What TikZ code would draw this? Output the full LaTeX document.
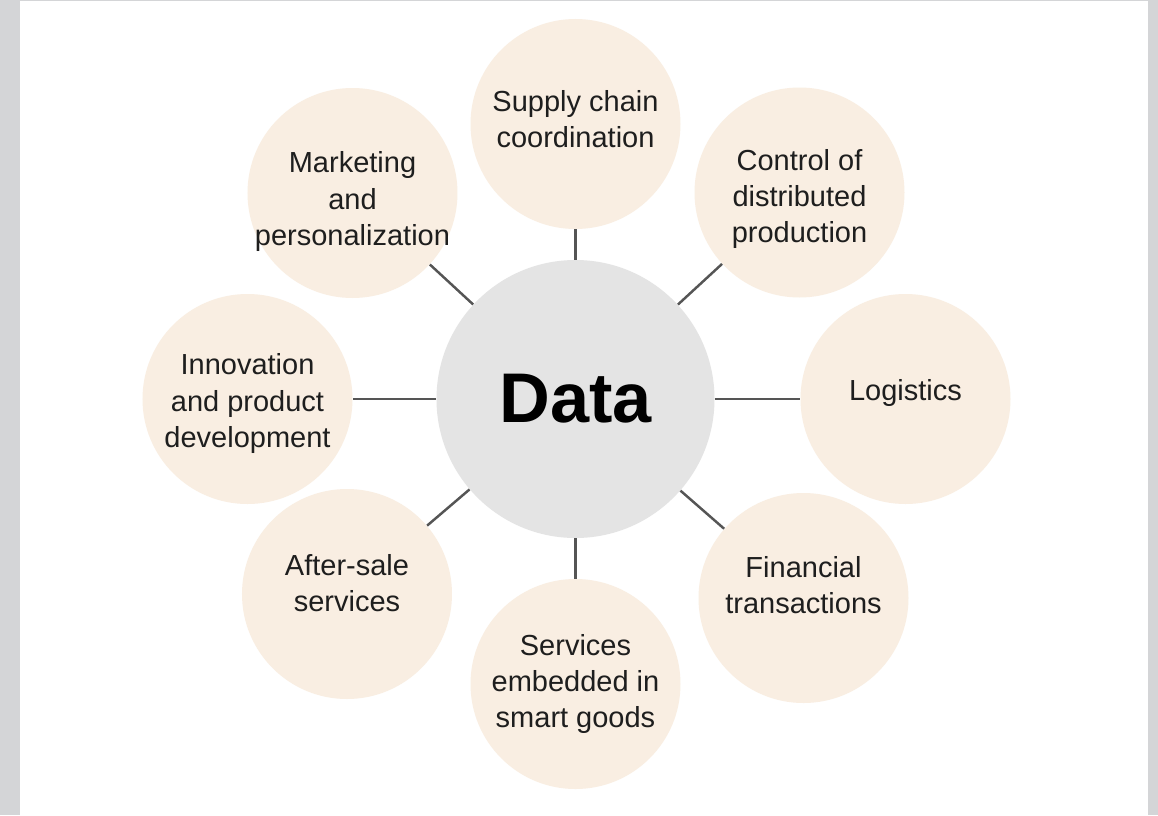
\documentclass[tikz,border=0pt]{standalone}
\usepackage{fontspec}
\setmainfont{Liberation Sans}
\usetikzlibrary{positioning}

\definecolor{sand}{RGB}{249,238,226}
\definecolor{hubgray}{RGB}{228,228,228}
\definecolor{spokegray}{RGB}{85,85,85}
\definecolor{inkgray}{RGB}{30,30,30}
\definecolor{framegray}{RGB}{212,213,215}

\begin{document}
\begin{tikzpicture}[
    disc/.style={
        circle,
        fill=sand,
        minimum size=4.2cm,
        inner sep=0pt
    },
    caption/.style={
        text=inkgray,
        align=center,
        inner sep=0pt,
        font=\fontsize{16.5}{20.5}\selectfont
    },
    hub/.style={
        circle,
        fill=hubgray,
        minimum size=5.56cm,
        inner sep=0pt,
        text=black,
        font=\fontsize{40}{48}\selectfont\bfseries
    },
    spoke/.style={
        line width=1.4pt,
        spokegray
    }
]

% Frame and white sheet
\fill[framegray] (-11.51,8.08) rectangle (11.65,-8.22);
\fill[white] (-11.11,8.06) rectangle (11.45,-8.22);

% Central node
\node[hub] (data) at (0,0.1) {Data};

% Fields that use the data, clockwise from the top
\node[disc] (supply)    at (0,5.6)      {};
\node[disc] (control)   at (4.48,4.23)  {};
\node[disc] (logistics) at (6.6,0.1)    {};
\node[disc] (finance)   at (4.56,-3.88) {};
\node[disc] (embedded)  at (0,-5.6)     {};
\node[disc] (aftersale) at (-4.57,-3.8) {};
\node[disc] (innovate)  at (-6.56,0.1)  {};
\node[disc] (marketing) at (-4.46,4.22) {};

% Labels, set a little off centre where the text sits higher or lower
\node[caption] (supply-txt)    at ([yshift=0.1cm]supply)     {Supply chain\\coordination};
\node[caption] (control-txt)   at ([yshift=-0.13cm]control)  {Control of\\distributed\\production};
\node[caption] (logistics-txt) at ([yshift=0.12cm]logistics) {Logistics};
\node[caption] (finance-txt)   at ([yshift=0.26cm]finance)   {Financial\\transactions};
\node[caption] (embedded-txt)  at (embedded)                 {Services\\embedded in\\smart goods};
\node[caption] (aftersale-txt) at ([yshift=0.22cm]aftersale) {After-sale\\services};
\node[caption] (innovate-txt)  at ([yshift=-0.09cm]innovate) {Innovation\\and product\\development};
\node[caption] (marketing-txt) at ([yshift=-0.17cm]marketing) {Marketing\\and\\personalization};

% Spokes from the hub
\foreach \n in {supply,control,logistics,finance,embedded,aftersale,innovate,marketing}
    \draw[spoke] (data) -- (\n);

\end{tikzpicture}
\end{document}
